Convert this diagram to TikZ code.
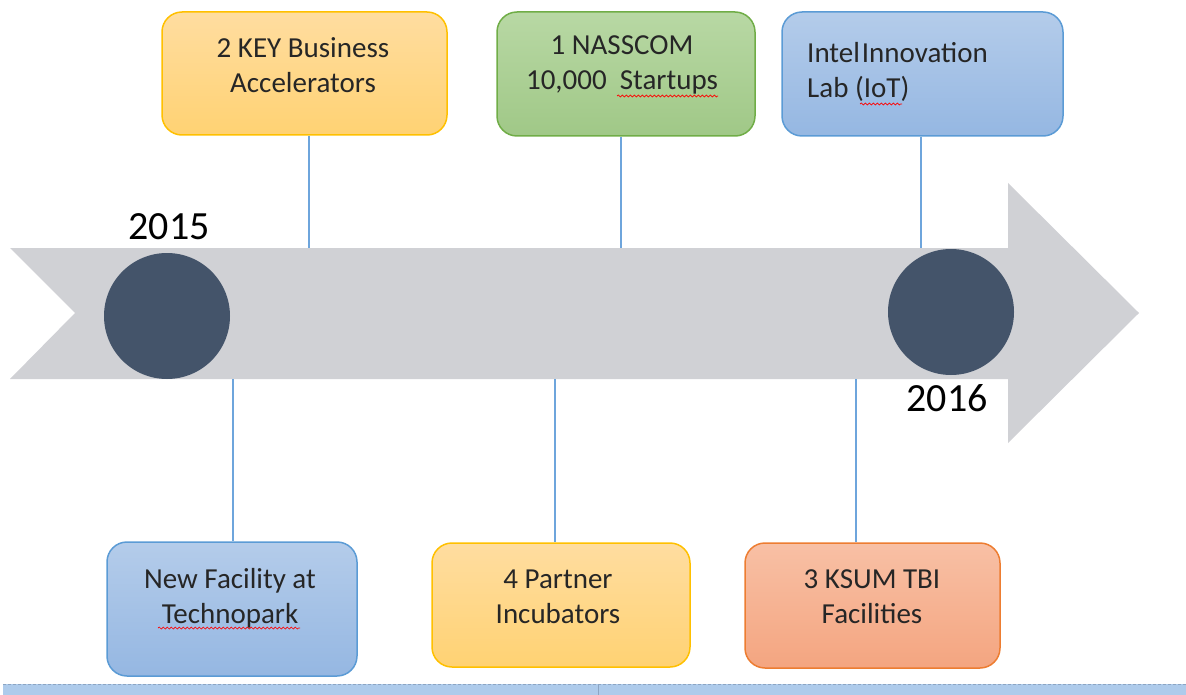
\documentclass[tikz,border=0pt]{standalone}
\usepackage{fontspec}
\setmainfont{Carlito}
\usetikzlibrary{decorations.pathmorphing}
\definecolor{arrowgray}{RGB}{208,209,213}
\definecolor{dot}{RGB}{68,84,106}
\definecolor{conn}{RGB}{110,165,220}
\definecolor{orT}{RGB}{255,221,160}
\definecolor{orB}{RGB}{255,210,115}
\definecolor{orD}{RGB}{255,192,0}
\definecolor{grT}{RGB}{184,216,164}
\definecolor{grB}{RGB}{160,200,135}
\definecolor{grD}{RGB}{112,173,71}
\definecolor{blT}{RGB}{180,204,234}
\definecolor{blB}{RGB}{149,183,226}
\definecolor{blD}{RGB}{91,155,213}
\definecolor{rdT}{RGB}{248,192,165}
\definecolor{rdB}{RGB}{244,165,128}
\definecolor{rdD}{RGB}{237,125,49}
\definecolor{bandfill}{RGB}{174,203,235}
\definecolor{banddash}{RGB}{140,165,195}
\tikzset{
  x=1pt, y=-1pt,
  box/.style={rectangle, rounded corners=20pt, line width=1.5pt, inner sep=0pt},
  orbox/.style={box, draw=orD, top color=orT, bottom color=orB},
  grbox/.style={box, draw=grD, top color=grT, bottom color=grB},
  blbox/.style={box, draw=blD, top color=blT, bottom color=blB},
  rdbox/.style={box, draw=rdD, top color=rdT, bottom color=rdB},
  lbl/.style={align=center, font=\fontsize{29}{35}\selectfont, text=black!85, inner sep=0pt},
  year/.style={font=\fontsize{40}{40}\selectfont, text=black, inner sep=0pt},
  dotc/.style={circle, fill=dot, minimum size=126pt, inner sep=0pt},
  conn/.style={draw=conn, line width=1.6pt},
  squig/.style={draw=red, line width=0.7pt, decorate, decoration={snake, amplitude=1pt, segment length=4pt}}
}
\begin{document}
\begin{tikzpicture}
\useasboundingbox (0,0) rectangle (1186,695);
% timeline arrow
\fill[arrowgray] (10,248) -- (1008,248) -- (1008,183) -- (1139,313) -- (1008,443) -- (1008,379) -- (10,379) -- (75,313) -- cycle;
% connector anchors on arrow
\coordinate (t1) at (309,248);
\coordinate (t2) at (621,248);
\coordinate (t3) at (921,248);
\coordinate (u1) at (233,379);
\coordinate (u2) at (555,379);
\coordinate (u3) at (856,379);
% boxes
\node[orbox, minimum width=285pt, minimum height=123pt] (b1) at (304.5,73.5) {};
\node[grbox, minimum width=258pt, minimum height=124pt] (b2) at (626,74) {};
\node[blbox, minimum width=281pt, minimum height=124pt] (b3) at (922.5,74) {};
\node[blbox, minimum width=250pt, minimum height=134pt] (b4) at (232,609) {};
\node[orbox, minimum width=258pt, minimum height=124pt] (b5) at (561,605) {};
\node[rdbox, minimum width=255pt, minimum height=125pt] (b6) at (872.5,605.5) {};
% connectors
\draw[conn] (b1.south -| t1) -- (t1);
\draw[conn] (b2.south -| t2) -- (t2);
\draw[conn] (b3.south -| t3) -- (t3);
\draw[conn] (u1) -- (b4.north -| u1);
\draw[conn] (u2) -- (b5.north -| u2);
\draw[conn] (u3) -- (b6.north -| u3);
% circles
\node[dotc] (c15) at (167,316) {};
\node[dotc] (c16) at (951,312) {};
\node[year] (y15) at (169,227) {2015};
\node[year] (y16) at (947,398) {2016};
% labels
\node[lbl] (l1) at (303,65) {2 KEY Business\\Accelerators};
\node[lbl] (l2) at (622,65) {1 NASSCOM\\10,000\ \ Startups};
\node[lbl, align=left, anchor=west] (l3) at (807,72) {Intel\hspace{2pt}Innovation\\Lab (IoT)};
\node[lbl] (l4) at (230,598) {New Facility at\\Technopark};
\node[lbl] (l5) at (558,597) {4 Partner\\Incubators};
\node[lbl] (l6) at (872,597) {3 KSUM TBI\\Facilities};
% spell-check squiggles
\draw[squig] (617,96) -- (718,96);
\draw[squig] (860,104) -- (902,104);
\draw[squig] (158,628) -- (300,628);
% bottom band
\fill[bandfill] (3,684) rectangle (1186,695);
\draw[banddash, dashed, line width=1pt, dash pattern=on 3pt off 2pt] (3,684) -- (1186,684);
\coordinate (tk) at (598,684);
\draw[banddash, line width=0.8pt] (tk) -- ++(0,11);
\end{tikzpicture}
\end{document}
